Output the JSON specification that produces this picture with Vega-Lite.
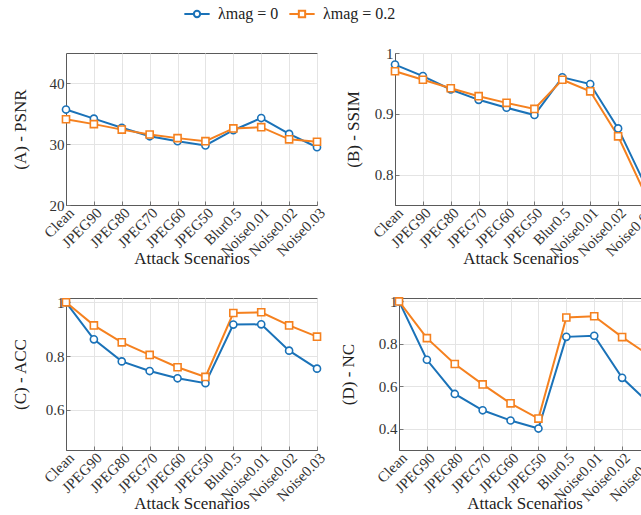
{
  "$schema": "https://vega.github.io/schema/vega-lite/v6.json",
  "padding": {"left": 10, "top": 6, "right": 0, "bottom": 0},
  "background": "white",
  "datasets": {
    "d": [
      {"panel": "A", "scenario": "Clean", "setting": "λmag = 0", "value": 35.7},
      {"panel": "A", "scenario": "JPEG90", "setting": "λmag = 0", "value": 34.2},
      {"panel": "A", "scenario": "JPEG80", "setting": "λmag = 0", "value": 32.7},
      {"panel": "A", "scenario": "JPEG70", "setting": "λmag = 0", "value": 31.3},
      {"panel": "A", "scenario": "JPEG60", "setting": "λmag = 0", "value": 30.5},
      {"panel": "A", "scenario": "JPEG50", "setting": "λmag = 0", "value": 29.8},
      {"panel": "A", "scenario": "Blur0.5", "setting": "λmag = 0", "value": 32.3},
      {"panel": "A", "scenario": "Noise0.01", "setting": "λmag = 0", "value": 34.3},
      {"panel": "A", "scenario": "Noise0.02", "setting": "λmag = 0", "value": 31.7},
      {"panel": "A", "scenario": "Noise0.03", "setting": "λmag = 0", "value": 29.5},
      {"panel": "A", "scenario": "Clean", "setting": "λmag = 0.2", "value": 34.1},
      {"panel": "A", "scenario": "JPEG90", "setting": "λmag = 0.2", "value": 33.3},
      {"panel": "A", "scenario": "JPEG80", "setting": "λmag = 0.2", "value": 32.4},
      {"panel": "A", "scenario": "JPEG70", "setting": "λmag = 0.2", "value": 31.6},
      {"panel": "A", "scenario": "JPEG60", "setting": "λmag = 0.2", "value": 31.0},
      {"panel": "A", "scenario": "JPEG50", "setting": "λmag = 0.2", "value": 30.5},
      {"panel": "A", "scenario": "Blur0.5", "setting": "λmag = 0.2", "value": 32.6},
      {"panel": "A", "scenario": "Noise0.01", "setting": "λmag = 0.2", "value": 32.8},
      {"panel": "A", "scenario": "Noise0.02", "setting": "λmag = 0.2", "value": 30.8},
      {"panel": "A", "scenario": "Noise0.03", "setting": "λmag = 0.2", "value": 30.4},
      {"panel": "B", "scenario": "Clean", "setting": "λmag = 0", "value": 0.981},
      {"panel": "B", "scenario": "JPEG90", "setting": "λmag = 0", "value": 0.962},
      {"panel": "B", "scenario": "JPEG80", "setting": "λmag = 0", "value": 0.940},
      {"panel": "B", "scenario": "JPEG70", "setting": "λmag = 0", "value": 0.923},
      {"panel": "B", "scenario": "JPEG60", "setting": "λmag = 0", "value": 0.910},
      {"panel": "B", "scenario": "JPEG50", "setting": "λmag = 0", "value": 0.898},
      {"panel": "B", "scenario": "Blur0.5", "setting": "λmag = 0", "value": 0.960},
      {"panel": "B", "scenario": "Noise0.01", "setting": "λmag = 0", "value": 0.949},
      {"panel": "B", "scenario": "Noise0.02", "setting": "λmag = 0", "value": 0.876},
      {"panel": "B", "scenario": "Noise0.03", "setting": "λmag = 0", "value": 0.780},
      {"panel": "B", "scenario": "Clean", "setting": "λmag = 0.2", "value": 0.970},
      {"panel": "B", "scenario": "JPEG90", "setting": "λmag = 0.2", "value": 0.956},
      {"panel": "B", "scenario": "JPEG80", "setting": "λmag = 0.2", "value": 0.942},
      {"panel": "B", "scenario": "JPEG70", "setting": "λmag = 0.2", "value": 0.929},
      {"panel": "B", "scenario": "JPEG60", "setting": "λmag = 0.2", "value": 0.918},
      {"panel": "B", "scenario": "JPEG50", "setting": "λmag = 0.2", "value": 0.908},
      {"panel": "B", "scenario": "Blur0.5", "setting": "λmag = 0.2", "value": 0.956},
      {"panel": "B", "scenario": "Noise0.01", "setting": "λmag = 0.2", "value": 0.937},
      {"panel": "B", "scenario": "Noise0.02", "setting": "λmag = 0.2", "value": 0.863},
      {"panel": "B", "scenario": "Noise0.03", "setting": "λmag = 0.2", "value": 0.765},
      {"panel": "C", "scenario": "Clean", "setting": "λmag = 0", "value": 1.0},
      {"panel": "C", "scenario": "JPEG90", "setting": "λmag = 0", "value": 0.862},
      {"panel": "C", "scenario": "JPEG80", "setting": "λmag = 0", "value": 0.780},
      {"panel": "C", "scenario": "JPEG70", "setting": "λmag = 0", "value": 0.744},
      {"panel": "C", "scenario": "JPEG60", "setting": "λmag = 0", "value": 0.717},
      {"panel": "C", "scenario": "JPEG50", "setting": "λmag = 0", "value": 0.699},
      {"panel": "C", "scenario": "Blur0.5", "setting": "λmag = 0", "value": 0.917},
      {"panel": "C", "scenario": "Noise0.01", "setting": "λmag = 0", "value": 0.918},
      {"panel": "C", "scenario": "Noise0.02", "setting": "λmag = 0", "value": 0.820},
      {"panel": "C", "scenario": "Noise0.03", "setting": "λmag = 0", "value": 0.753},
      {"panel": "C", "scenario": "Clean", "setting": "λmag = 0.2", "value": 1.0},
      {"panel": "C", "scenario": "JPEG90", "setting": "λmag = 0.2", "value": 0.914},
      {"panel": "C", "scenario": "JPEG80", "setting": "λmag = 0.2", "value": 0.851},
      {"panel": "C", "scenario": "JPEG70", "setting": "λmag = 0.2", "value": 0.804},
      {"panel": "C", "scenario": "JPEG60", "setting": "λmag = 0.2", "value": 0.758},
      {"panel": "C", "scenario": "JPEG50", "setting": "λmag = 0.2", "value": 0.722},
      {"panel": "C", "scenario": "Blur0.5", "setting": "λmag = 0.2", "value": 0.960},
      {"panel": "C", "scenario": "Noise0.01", "setting": "λmag = 0.2", "value": 0.963},
      {"panel": "C", "scenario": "Noise0.02", "setting": "λmag = 0.2", "value": 0.914},
      {"panel": "C", "scenario": "Noise0.03", "setting": "λmag = 0.2", "value": 0.872},
      {"panel": "D", "scenario": "Clean", "setting": "λmag = 0", "value": 1.0},
      {"panel": "D", "scenario": "JPEG90", "setting": "λmag = 0", "value": 0.725},
      {"panel": "D", "scenario": "JPEG80", "setting": "λmag = 0", "value": 0.564},
      {"panel": "D", "scenario": "JPEG70", "setting": "λmag = 0", "value": 0.487},
      {"panel": "D", "scenario": "JPEG60", "setting": "λmag = 0", "value": 0.439},
      {"panel": "D", "scenario": "JPEG50", "setting": "λmag = 0", "value": 0.401},
      {"panel": "D", "scenario": "Blur0.5", "setting": "λmag = 0", "value": 0.833},
      {"panel": "D", "scenario": "Noise0.01", "setting": "λmag = 0", "value": 0.838},
      {"panel": "D", "scenario": "Noise0.02", "setting": "λmag = 0", "value": 0.640},
      {"panel": "D", "scenario": "Noise0.03", "setting": "λmag = 0", "value": 0.516},
      {"panel": "D", "scenario": "Clean", "setting": "λmag = 0.2", "value": 1.0},
      {"panel": "D", "scenario": "JPEG90", "setting": "λmag = 0.2", "value": 0.827},
      {"panel": "D", "scenario": "JPEG80", "setting": "λmag = 0.2", "value": 0.705},
      {"panel": "D", "scenario": "JPEG70", "setting": "λmag = 0.2", "value": 0.609},
      {"panel": "D", "scenario": "JPEG60", "setting": "λmag = 0.2", "value": 0.520},
      {"panel": "D", "scenario": "JPEG50", "setting": "λmag = 0.2", "value": 0.448},
      {"panel": "D", "scenario": "Blur0.5", "setting": "λmag = 0.2", "value": 0.924},
      {"panel": "D", "scenario": "Noise0.01", "setting": "λmag = 0.2", "value": 0.930},
      {"panel": "D", "scenario": "Noise0.02", "setting": "λmag = 0.2", "value": 0.832},
      {"panel": "D", "scenario": "Noise0.03", "setting": "λmag = 0.2", "value": 0.743}
    ]
  },
  "data": {"name": "d"},
  "spacing": 25,
  "vconcat": [
    {
      "spacing": 14,
      "hconcat": [
        {
          "width": 251, "height": 152,
          "transform": [{"filter": "datum.panel === 'A'"}],
          "encoding": {
            "x": {"field": "scenario", "type": "ordinal", "sort": ["Clean","JPEG90","JPEG80","JPEG70","JPEG60","JPEG50","Blur0.5","Noise0.01","Noise0.02","Noise0.03"], "scale": {"type": "point", "padding": 0}, "title": "Attack Scenarios"},
            "y": {"field": "value", "type": "quantitative", "scale": {"domain": [20, 45], "nice": false, "zero": false}, "axis": {"values": [20, 30, 40], "format": "d", "titlePadding": 20}, "title": "(A) - PSNR"}
          },
          "layer": [
            {"transform": [{"filter": "datum.setting === 'λmag = 0'"}], "mark": {"type": "line", "color": "#1a72b8", "strokeWidth": 2}},
            {"transform": [{"filter": "datum.setting === 'λmag = 0.2'"}], "mark": {"type": "line", "color": "#f5811f", "strokeWidth": 2}},
            {"transform": [{"filter": "datum.setting === 'λmag = 0'"}], "mark": {"type": "point", "shape": "circle", "filled": true, "fill": "white", "stroke": "#1a72b8", "strokeWidth": 1.6, "size": 50, "opacity": 1}},
            {"transform": [{"filter": "datum.setting === 'λmag = 0.2'"}], "mark": {"type": "point", "shape": "square", "filled": true, "fill": "white", "stroke": "#f5811f", "strokeWidth": 1.6, "size": 50, "opacity": 1}},
            {"mark": {"type": "point", "opacity": 0, "filled": false},
             "encoding": {
               "color": {"field": "setting", "type": "nominal", "scale": {"domain": ["λmag = 0", "λmag = 0.2"], "range": ["#1a72b8", "#f5811f"]}, "title": null,
                 "legend": {"orient": "none", "direction": "horizontal", "legendX": 123, "legendY": -47, "title": null}},
               "shape": {"field": "setting", "type": "nominal", "scale": {"domain": ["λmag = 0", "λmag = 0.2"], "range": ["M-4,0L-1,0M1,0L4,0M-1,0A1,1,0,1,1,1,0A1,1,0,1,1,-1,0", "M-4,0L-1,0M1,0L4,0M-1,-1L1,-1L1,1L-1,1Z"]}, "title": null,
                 "legend": {"orient": "none", "direction": "horizontal", "legendX": 123, "legendY": -47, "title": null}}
             }}
          ]
        },
        {
          "width": 251, "height": 152,
          "transform": [{"filter": "datum.panel === 'B'"}],
          "encoding": {
            "x": {"field": "scenario", "type": "ordinal", "sort": ["Clean","JPEG90","JPEG80","JPEG70","JPEG60","JPEG50","Blur0.5","Noise0.01","Noise0.02","Noise0.03"], "scale": {"type": "point", "padding": 0}, "title": "Attack Scenarios"},
            "y": {"field": "value", "type": "quantitative", "scale": {"domain": [0.75, 1], "nice": false, "zero": false}, "axis": {"values": [0.8, 0.9, 1], "format": ".1~f", "titlePadding": 12}, "title": "(B) - SSIM"}
          },
          "layer": [
            {"transform": [{"filter": "datum.setting === 'λmag = 0'"}], "mark": {"type": "line", "color": "#1a72b8", "strokeWidth": 2}},
            {"transform": [{"filter": "datum.setting === 'λmag = 0.2'"}], "mark": {"type": "line", "color": "#f5811f", "strokeWidth": 2}},
            {"transform": [{"filter": "datum.setting === 'λmag = 0'"}], "mark": {"type": "point", "shape": "circle", "filled": true, "fill": "white", "stroke": "#1a72b8", "strokeWidth": 1.6, "size": 50, "opacity": 1}},
            {"transform": [{"filter": "datum.setting === 'λmag = 0.2'"}], "mark": {"type": "point", "shape": "square", "filled": true, "fill": "white", "stroke": "#f5811f", "strokeWidth": 1.6, "size": 50, "opacity": 1}}
          ]
        }
      ]
    },
    {
      "spacing": 9,
      "hconcat": [
        {
          "width": 251, "height": 152,
          "transform": [{"filter": "datum.panel === 'C'"}],
          "encoding": {
            "x": {"field": "scenario", "type": "ordinal", "sort": ["Clean","JPEG90","JPEG80","JPEG70","JPEG60","JPEG50","Blur0.5","Noise0.01","Noise0.02","Noise0.03"], "scale": {"type": "point", "padding": 0}, "title": "Attack Scenarios"},
            "y": {"field": "value", "type": "quantitative", "scale": {"domain": [0.45, 1.016], "nice": false, "zero": false}, "axis": {"values": [0.6, 0.8, 1], "format": ".1~f", "titlePadding": 16}, "title": "(C) - ACC"}
          },
          "layer": [
            {"transform": [{"filter": "datum.setting === 'λmag = 0'"}], "mark": {"type": "line", "color": "#1a72b8", "strokeWidth": 2}},
            {"transform": [{"filter": "datum.setting === 'λmag = 0.2'"}], "mark": {"type": "line", "color": "#f5811f", "strokeWidth": 2}},
            {"transform": [{"filter": "datum.setting === 'λmag = 0'"}], "mark": {"type": "point", "shape": "circle", "filled": true, "fill": "white", "stroke": "#1a72b8", "strokeWidth": 1.6, "size": 50, "opacity": 1}},
            {"transform": [{"filter": "datum.setting === 'λmag = 0.2'"}], "mark": {"type": "point", "shape": "square", "filled": true, "fill": "white", "stroke": "#f5811f", "strokeWidth": 1.6, "size": 50, "opacity": 1}}
          ]
        },
        {
          "width": 251, "height": 152,
          "transform": [{"filter": "datum.panel === 'D'"}],
          "encoding": {
            "x": {"field": "scenario", "type": "ordinal", "sort": ["Clean","JPEG90","JPEG80","JPEG70","JPEG60","JPEG50","Blur0.5","Noise0.01","Noise0.02","Noise0.03"], "scale": {"type": "point", "padding": 0}, "title": "Attack Scenarios"},
            "y": {"field": "value", "type": "quantitative", "scale": {"domain": [0.3, 1.016], "nice": false, "zero": false}, "axis": {"values": [0.4, 0.6, 0.8, 1], "format": ".1~f", "titlePadding": 21}, "title": "(D) - NC"}
          },
          "layer": [
            {"transform": [{"filter": "datum.setting === 'λmag = 0'"}], "mark": {"type": "line", "color": "#1a72b8", "strokeWidth": 2}},
            {"transform": [{"filter": "datum.setting === 'λmag = 0.2'"}], "mark": {"type": "line", "color": "#f5811f", "strokeWidth": 2}},
            {"transform": [{"filter": "datum.setting === 'λmag = 0'"}], "mark": {"type": "point", "shape": "circle", "filled": true, "fill": "white", "stroke": "#1a72b8", "strokeWidth": 1.6, "size": 50, "opacity": 1}},
            {"transform": [{"filter": "datum.setting === 'λmag = 0.2'"}], "mark": {"type": "point", "shape": "square", "filled": true, "fill": "white", "stroke": "#f5811f", "strokeWidth": 1.6, "size": 50, "opacity": 1}}
          ]
        }
      ]
    }
  ],
  "config": {
    "font": "Liberation Serif",
    "view": {"stroke": "#5a5a5a", "strokeWidth": 1},
    "legend": {"padding": 0, "symbolSize": 40, "symbolStrokeWidth": 2, "symbolFillColor": "white", "symbolOpacity": 1, "labelOffset": 13, "columnPadding": 6, "labelFont": "Liberation Serif", "labelFontSize": 16, "labelColor": "#222"},
    "axis": {
      "labelFont": "Liberation Serif", "labelFontSize": 15, "labelColor": "#333",
      "titleFont": "Liberation Serif", "titleFontSize": 17, "titleFontWeight": "normal", "titleColor": "#222",
      "gridColor": "#e4e4e4", "gridWidth": 1, "grid": true,
      "domainColor": "#5a5a5a", "tickColor": "#777", "tickSize": -4, "labelPadding": 4
    },
    "axisX": {"labelAngle": -45, "labelFontSize": 15, "titlePadding": -8},
    "axisY": {"labelPadding": 6}
  }
}
